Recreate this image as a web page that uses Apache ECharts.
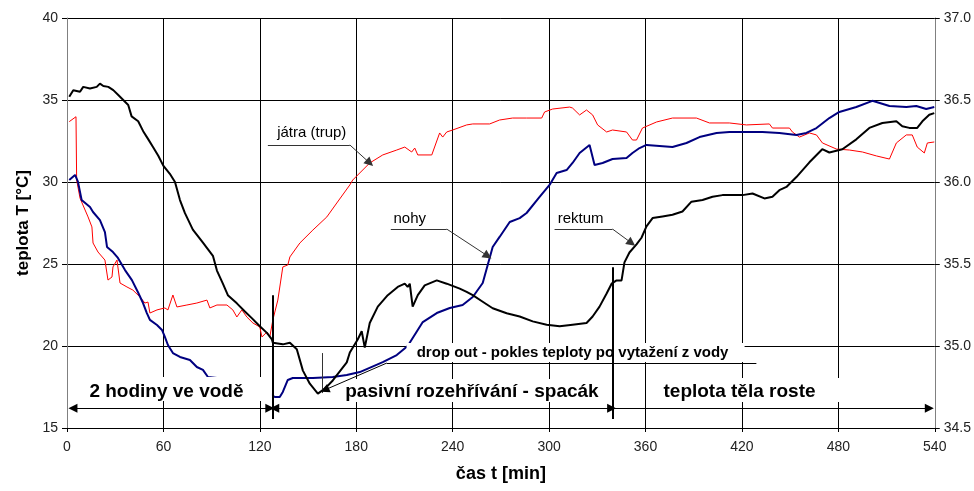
<!DOCTYPE html>
<html>
<head>
<meta charset="utf-8">
<script src="https://cdn.jsdelivr.net/npm/echarts@6/dist/echarts.min.js"></script>
<style>
html,body{margin:0;padding:0;background:#fff;}
#chart{width:974px;height:491px;}
</style>
</head>
<body>
<div id="chart"></div>
<script>
// ---- data (time in minutes, temperatures in °C) ----
const xTicks = [0, 60, 120, 180, 240, 300, 360, 420, 480, 540];

// játra (trup) – left axis
const jatraT = [1.4,5.6,6.0,8.1,9.9,13.1,15.5,16.2,19.3,23.6,25.5,28.0,28.6,31.1,33.0,37.3,41.0,45.4,48.5,50.4,51.6,56.0,60.9,62.8,65.9,68.4,74.6,80.8,87.1,88.9,93.3,99.5,103.2,105.7,108.8,111.9,115.7,120,121.3,124.4,126.2,128.1,131.2,134.3,137.4,138.7,144.9,153,161.7,167.9,176,177.8,188.4,196.5,205.2,210.2,214.5,216.4,218.3,227,231.9,233.8,236.3,240,248.7,252.5,263,269.2,277.3,286,295.4,297.2,302.2,312.8,314.6,319,323.3,327.1,330.2,335.8,339.5,348.2,351.9,354.4,358.1,366.9,376.8,391.7,399.8,412.2,422.8,437.1,439,449.6,451.4,455.8,462,466.4,470.1,478.8,486.9,495,503.7,511.8,516.1,522.3,526,529.1,533.5,535.4,539.7];
const jatra  = [33.68,33.98,30.12,29.02,28.6,27.87,27.26,26.28,25.73,25.24,24.02,24.21,24.82,25.24,23.84,23.6,23.41,22.99,22.62,22.68,22.01,22.2,22.32,22.2,23.11,22.38,22.5,22.62,22.8,22.32,22.5,22.5,22.2,21.77,22.2,21.77,21.4,21.16,20.55,20.85,20.55,21.59,22.8,24.82,24.94,25.43,26.28,27.07,27.87,28.72,29.82,30.12,31.16,31.65,31.95,32.13,31.83,32.07,31.65,31.65,32.99,32.74,33.05,33.17,33.48,33.54,33.54,33.78,33.9,33.9,33.9,34.27,34.45,34.57,34.51,34.09,34.39,34.09,33.48,33.05,33.17,33.05,32.56,32.56,33.29,33.66,33.9,33.9,33.6,33.6,33.48,33.54,33.29,33.29,33.05,32.74,32.99,32.87,32.38,32.01,31.95,31.83,31.59,31.4,32.38,32.87,32.87,32.13,31.77,32.38,32.44];

// nohy – left axis
const nohyT = [1.4,5.0,6.0,6.8,9.1,14.3,16.2,20.5,23.6,24.9,28.6,31.7,36.1,40.4,44.1,47.3,49.7,51.6,56.0,59.1,60.9,62.8,65.9,70.3,76.5,80.8,84.6,87.7,93.3,107.6,123.1,129.3,132.4,134.3,137.4,140.5,153,165.4,174.1,182.2,196.5,205.2,212,221.4,230.1,238.2,246.2,252.5,258.7,261.8,264.9,269.2,275.5,281.7,286,294.1,300.3,304.7,310.9,314.6,319,325.2,328.3,333.3,339.5,348.2,351.9,356.3,360.6,376.8,385.5,393.6,404.2,412.2,422.8,432.8,443.3,453.9,460.1,466.4,474.4,480.6,491.2,501.2,511.8,522.3,528.5,534.7,539.7];
const nohy  = [30.12,30.43,30.53,30.02,28.9,28.48,28.17,27.68,26.95,26.04,25.73,25.37,24.63,24.02,23.29,22.62,22.01,21.59,21.28,20.98,20.55,20.06,19.57,19.33,19.15,18.72,18.54,18.11,18.05,17.62,17.32,16.89,16.89,17.2,17.93,18.05,18.05,18.11,18.23,18.41,19.02,19.45,20.0,21.46,22.01,22.32,22.5,22.99,23.84,24.94,26.04,26.65,27.56,27.8,28.11,29.09,29.82,30.55,30.73,31.16,31.77,32.26,31.04,31.16,31.4,31.46,31.77,32.07,32.26,32.13,32.38,32.74,32.99,33.05,33.05,33.05,32.99,32.87,32.99,33.29,33.9,34.27,34.57,34.95,34.63,34.57,34.63,34.45,34.57];

// rektum – right axis
const rektumT = [1.4,3.9,8.1,10.1,14.3,18.5,20.5,22.6,25.7,28.8,31.9,35,38.1,40.2,44.3,47.4,50.6,53.7,56.8,59.9,64.0,67.2,70.3,73.4,78.3,84.6,90.8,93.3,97,100.1,105.7,110.7,115,120,124.4,127.5,128.1,134.3,138.7,143,146.8,151.1,156.1,160.5,165.4,174.1,176,180.9,183.4,185.3,188.4,193.4,199.6,205.8,210.2,212,213.3,215.1,218.3,222.6,230.1,236.3,244.4,248.7,252.5,258.7,264.9,273.6,281.7,289.8,298.5,306.6,314.6,323.3,327.1,331.4,335.8,338.9,342,345.1,346.9,350,354.4,357.5,360.6,364.4,370.6,376.8,383,388.6,395.5,401.7,407.9,414.2,420.4,426.6,434,439,443.3,447.7,453.9,462,470,474.4,482.5,491.2,499.3,507.4,516.1,519.8,524.2,529.1,532.3,536.6,539.7];
const rektum  = [36.52,36.56,36.55,36.58,36.57,36.58,36.60,36.585,36.58,36.56,36.53,36.50,36.47,36.40,36.37,36.31,36.26,36.21,36.16,36.10,36.05,36.00,35.89,35.81,35.71,35.63,35.55,35.46,35.38,35.31,35.26,35.21,35.17,35.12,35.08,35.04,35.02,35.01,35.02,34.98,34.85,34.77,34.71,34.74,34.79,34.90,34.96,35.04,35.09,34.99,35.14,35.24,35.31,35.36,35.38,35.36,35.38,35.24,35.31,35.37,35.40,35.38,35.35,35.33,35.31,35.27,35.23,35.20,35.18,35.15,35.13,35.12,35.13,35.14,35.18,35.24,35.32,35.38,35.40,35.40,35.51,35.57,35.62,35.66,35.73,35.78,35.79,35.80,35.82,35.88,35.89,35.91,35.92,35.92,35.92,35.93,35.90,35.91,35.95,35.97,36.03,36.12,36.20,36.18,36.20,36.26,36.33,36.36,36.37,36.34,36.33,36.33,36.37,36.41,36.42];

const FONT = '"Liberation Sans", Arial, sans-serif';
const pairs = (xs, ys) => xs.map((x, i) => [x, ys[i]]);

// annotation boxes (white, hide grid underneath)
const boxes = [
  {coord: [67.8, 17.38], symbolSize: [192, 24]},
  {coord: [253.7, 17.29], symbolSize: [270, 23]},
  {coord: [424.7, 17.32], symbolSize: [200, 24]},
  {coord: [316.5, 19.6], symbolSize: [338, 19]}
];
const bigLabel = {fontFamily: FONT, fontWeight: 'bold', fontSize: 19, color: '#000'};
const smallLabel = {fontFamily: FONT, fontSize: 15, color: '#000'};
const texts = [
  {coord: [61.9, 17.2], value: '2 hodiny ve vodě', style: bigLabel},
  {coord: [252, 17.2], value: 'pasivní rozehřívání - spacák', style: bigLabel},
  {coord: [418.5, 17.2], value: 'teplota těla roste', style: bigLabel},
  {coord: [314.6, 19.57], value: 'drop out - pokles teploty po vytažení z vody', style: {fontFamily: FONT, fontWeight: 'bold', fontSize: 15, color: '#000'}},
  {coord: [152.3, 33.0], value: 'játra (trup)', style: smallLabel},
  {coord: [213.3, 27.74], value: 'nohy', style: smallLabel},
  {coord: [319.6, 27.74], value: 'rektum', style: smallLabel}
];

const tri = 'triangle';
function seg(a, b, s1, s2, style) {
  return [{coord: a, symbol: s1 || 'none', lineStyle: style}, {coord: b, symbol: s2 || 'none'}];
}
const blk = {color: '#000', width: 1, type: 'solid'};
const blk2 = {color: '#000', width: 2, type: 'solid'};
const gry = {color: '#333', width: 1, type: 'solid'};
const lines = [
  seg([3.7, 16.2], [126.2, 16.2], tri, tri, blk),
  seg([129.3, 16.2], [338.9, 16.2], tri, tri, blk),
  seg([339.5, 16.2], [536.6, 16.2], 'none', tri, blk),
  seg([128, 15.55], [128, 23.1], 'none', 'none', blk2),
  seg([339.5, 15.55], [339.5, 24.8], 'none', 'none', blk2),
  seg([158.6, 17.13], [158.6, 19.57], 'none', 'none', gry),
  seg([125, 32.26], [176, 32.26], 'none', 'none', gry),
  seg([176, 32.26], [188.4, 31.16], 'none', tri, gry),
  seg([201.5, 27.13], [236.3, 27.13], 'none', 'none', gry),
  seg([236.3, 27.13], [261.8, 25.49], 'none', tri, gry),
  seg([303.4, 27.13], [339.5, 27.13], 'none', 'none', gry),
  seg([339.5, 27.13], [351.3, 26.28], 'none', tri, gry),
  seg([199, 18.96], [429, 18.96], 'none', 'none', blk),
  seg([199, 18.96], [160.4, 17.32], 'none', tri, blk)
];

const chart = echarts.init(document.getElementById('chart'), null, {renderer: 'canvas'});
const axisLabel = {fontFamily: FONT, fontSize: 14, color: '#222'};
chart.setOption({
  animation: false,
  backgroundColor: '#fff',
  grid: {left: 67, right: 38, top: 18, bottom: 63},
  xAxis: {
    type: 'value', min: 0, max: 540, interval: 60,
    name: 'čas t [min]', nameLocation: 'middle', nameGap: 37,
    nameTextStyle: {fontFamily: FONT, fontWeight: 'bold', fontSize: 18, color: '#000'},
    axisLine: {show: true, onZero: false, lineStyle: {color: '#000', width: 1}},
    axisTick: {show: true, inside: false, length: 4, lineStyle: {color: '#000'}},
    axisLabel: Object.assign({margin: 12, formatter: v => xTicks.includes(v) ? String(v) : ''}, axisLabel),
    splitLine: {show: true, lineStyle: {color: '#000', width: 1}}
  },
  yAxis: [
    {
      type: 'value', min: 15, max: 40, interval: 5, position: 'left',
      name: 'teplota T [°C]', nameLocation: 'middle', nameGap: 35, nameRotate: 90,
      nameTextStyle: {fontFamily: FONT, fontWeight: 'bold', fontSize: 17, color: '#000'},
      axisLine: {show: true, onZero: false, lineStyle: {color: '#808080', width: 1}},
      axisTick: {show: true, inside: false, length: 5, lineStyle: {color: '#000'}},
      axisLabel: Object.assign({margin: 9}, axisLabel),
      splitLine: {show: true, lineStyle: {color: '#000', width: 1}}
    },
    {
      type: 'value', min: 34.5, max: 37, interval: 0.5, position: 'right',
      axisLine: {show: true, onZero: false, lineStyle: {color: '#808080', width: 1}},
      axisTick: {show: true, inside: false, length: 5, lineStyle: {color: '#000'}},
      axisLabel: Object.assign({margin: 9, formatter: v => v.toFixed(1)}, axisLabel),
      splitLine: {show: false}
    }
  ],
  series: [
    {
      name: 'játra (trup)', type: 'line', yAxisIndex: 0, data: pairs(jatraT, jatra),
      showSymbol: false, symbol: 'none', z: 2,
      lineStyle: {color: '#ff0000', width: 1}
    },
    {
      name: 'nohy', type: 'line', yAxisIndex: 0, data: pairs(nohyT, nohy),
      showSymbol: false, symbol: 'none', z: 2,
      lineStyle: {color: '#000080', width: 2}
    },
    {
      name: 'rektum', type: 'line', yAxisIndex: 1, data: pairs(rektumT, rektum),
      showSymbol: false, symbol: 'none', z: 2,
      lineStyle: {color: '#000', width: 2}
    },
    {
      name: 'boxes', type: 'line', yAxisIndex: 0, data: [], silent: true,
      markPoint: {
        z: 3, silent: true, symbol: 'rect', animation: false,
        itemStyle: {color: '#fff'}, label: {show: false},
        data: boxes.map(b => ({coord: b.coord, symbolSize: b.symbolSize}))
      }
    },
    {
      name: 'lines', type: 'line', yAxisIndex: 0, data: [], silent: true,
      markLine: {
        z: 4, silent: true, animation: false, symbolSize: [9, 9],
        label: {show: false}, emphasis: {disabled: true},
        lineStyle: {color: '#000', width: 1, type: 'solid'},
        data: lines
      }
    },
    {
      name: 'texts', type: 'line', yAxisIndex: 0, data: [], silent: true,
      markPoint: {
        z: 6, silent: true, symbol: 'rect', symbolSize: 1, animation: false,
        itemStyle: {color: 'rgba(0,0,0,0)'},
        data: texts.map(t => ({
          coord: t.coord, value: t.value,
          label: Object.assign({show: true, position: 'inside', formatter: t.value}, t.style)
        }))
      }
    }
  ]
});
</script>
</body>
</html>
